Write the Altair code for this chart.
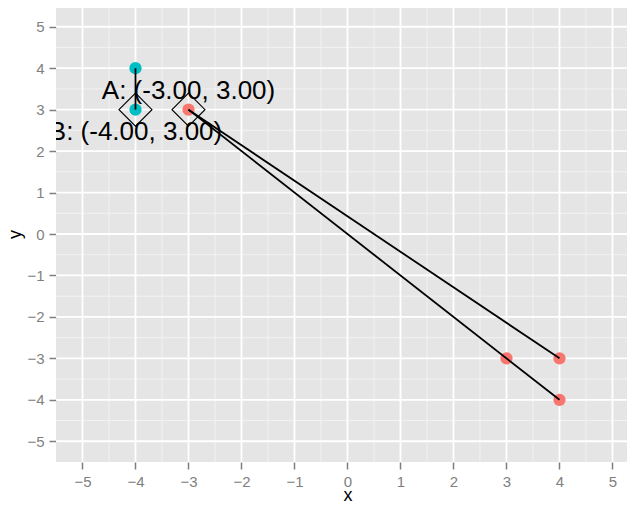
import altair as alt
import pandas as pd

# --- data ---
pt_x = [-4, -4, -3, 3, 4, 4]
pt_y = [4, 3, 3, -3, -3, -4]
pt_group = ["B", "B", "A", "A", "A", "A"]

seg_x = [-4, -3, -3]
seg_y = [4, 3, 3]
seg_xend = [-4, 4, 4]
seg_yend = [3, -3, -4]

dia_x = [-4, -3]
dia_y = [3, 3]

lab_text = ["A: (-3.00, 3.00)", "B: (-4.00, 3.00)"]
lab_x = [-3, -4]
lab_y = [3.5, 2.5]

major_breaks = [-5, -4, -3, -2, -1, 0, 1, 2, 3, 4, 5]
minor_breaks = [-4.5, -3.5, -2.5, -1.5, -0.5, 0.5, 1.5, 2.5, 3.5, 4.5]

FONT = "Liberation Sans"
xscale = alt.Scale(domain=[-5.5, 5.274], nice=False, zero=False)
yscale = alt.Scale(domain=[-5.5, 5.5], nice=False, zero=False)

xaxis = alt.Axis(values=major_breaks, title="x", titleX=291.5, titleY=38,
                 titleBaseline="alphabetic", titleAlign="center", labelPadding=5)
yaxis = alt.Axis(values=major_breaks, title="y", titleX=-36, titleY=228, titleAngle=270,
                 titleBaseline="alphabetic", titleAlign="center", labelPadding=5)

X = lambda: alt.X("x:Q", scale=xscale, axis=xaxis)
Y = lambda: alt.Y("y:Q", scale=yscale, axis=yaxis)

minor_df = pd.DataFrame({"x": minor_breaks, "y": minor_breaks})
major_df = pd.DataFrame({"x": major_breaks, "y": major_breaks})

minor_v = alt.Chart(minor_df).mark_rule(color="#F2F2F2", strokeWidth=1).encode(x=X())
minor_h = alt.Chart(minor_df).mark_rule(color="#F2F2F2", strokeWidth=1).encode(y=Y())
major_v = alt.Chart(major_df).mark_rule(color="white", strokeWidth=1.8).encode(x=X())
major_h = alt.Chart(major_df).mark_rule(color="white", strokeWidth=1.8).encode(y=Y())

pts_df = pd.DataFrame({"x": pt_x, "y": pt_y, "g": pt_group})
points = alt.Chart(pts_df).mark_circle(size=150, opacity=1).encode(
    x=X(), y=Y(),
    color=alt.Color("g:N", scale=alt.Scale(domain=["A", "B"], range=["#F8766D", "#00BFC4"]), legend=None),
)

seg_df = pd.DataFrame({"x": seg_x, "y": seg_y, "xend": seg_xend, "yend": seg_yend})
segs = alt.Chart(seg_df).mark_rule(color="black", strokeWidth=1.8).encode(
    x=X(), y=Y(), x2="xend:Q", y2="yend:Q"
)

dia_df = pd.DataFrame({"x": dia_x, "y": dia_y})
diamonds = alt.Chart(dia_df).mark_point(shape="diamond", size=1089, filled=False,
                                        color="black", strokeWidth=1.1, opacity=1).encode(x=X(), y=Y())

lab_df = pd.DataFrame({"x": lab_x, "y": lab_y, "t": lab_text})
labels = alt.Chart(lab_df).mark_text(fontSize=26, font=FONT, clip=True, align="center",
                                     baseline="middle", dy=2, color="black").encode(
    x=X(), y=Y(), text="t:N"
)

chart = alt.layer(minor_v, minor_h, major_v, major_h, points, segs, diamonds, labels).properties(
    width=571, height=456,
    padding={"left": 48, "top": -2, "right": 0, "bottom": 42},
    autosize=alt.AutoSizeParams(type="none"),
).configure_view(
    fill="#E5E5E5", stroke=None
).configure_axis(
    grid=False, domain=False,
    tickColor="#7F7F7F", tickSize=7, tickWidth=1.5,
    labelColor="#7F7F7F", labelFont=FONT, labelFontSize=15,
    titleColor="black", titleFont=FONT, titleFontSize=18, titleFontWeight="normal",
)

chart.save("out.html", embed_options={"renderer": "svg", "actions": False})
